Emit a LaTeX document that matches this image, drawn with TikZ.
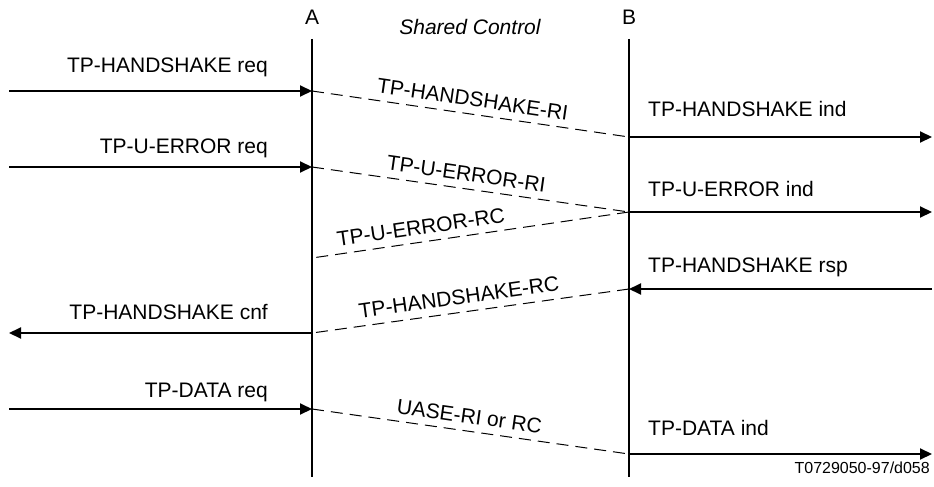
\documentclass[tikz,border=0pt]{standalone}
\usepackage{fontspec}
\setmainfont{Liberation Sans}
\usetikzlibrary{arrows.meta, positioning, calc}

\begin{document}
\begin{tikzpicture}[
            x=1pt, y=-1pt, >={Triangle[length=12pt,width=11pt]},
            font=\fontsize{21}{24}\selectfont,
            % ---- 预定义样式 ----
            lifeline/.style = {line width=2pt},
            prim/.style = {->, line width=2pt},
            pdu/.style = {line width=1pt, dash pattern=on 12pt off 7pt},
            pdulabel/.style = {sloped, above=7pt, inner sep=0pt},
            lbl/.style = {inner sep=0pt}
        ]
        \useasboundingbox (0,0) rectangle (934,487);

        % ===================== 两条生命线 =====================
        \coordinate (Atop) at (312,39);
        \coordinate (Abot) at (312,477);
        \coordinate (Btop) at (629,39);
        \coordinate (Bbot) at (629,477);
        \draw[lifeline] (Atop) -- (Abot);
        \draw[lifeline] (Btop) -- (Bbot);

        \node[lbl] (A) at (312,17) {A};
        \node[lbl] (B) at (629,17) {B};
        \node[lbl, anchor=base] (shared) at (470,35) {\itshape Shared Control};

        % ===================== 左侧原语 =====================
        \coordinate (L1) at (9,91);
        \coordinate (A1) at (312,91);
        \coordinate (L2) at (9,167);
        \coordinate (A2) at (312,167);
        \coordinate (A3) at (312,258);
        \coordinate (L4) at (9,333);
        \coordinate (A4) at (312,333);
        \coordinate (L5) at (9,409);
        \coordinate (A5) at (312,409);

        \node[lbl, anchor=base east] (hsreq) at (268,72) {TP-HANDSHAKE req};
        \node[lbl, anchor=base east] (uereq) at (268,153) {TP-U-ERROR req};
        \node[lbl, anchor=base east] (hscnf) at (268,319) {TP-HANDSHAKE cnf};
        \node[lbl, anchor=base east] (dtreq) at (268,397) {TP-DATA req};

        \draw[prim] (L1) -- (A1);
        \draw[prim] (L2) -- (A2);
        \draw[prim] (A4) -- (L4);
        \draw[prim] (L5) -- (A5);

        % ===================== 右侧原语 =====================
        \coordinate (B1) at (629,137);
        \coordinate (R1) at (932,137);
        \coordinate (B2) at (629,212);
        \coordinate (R2) at (932,212);
        \coordinate (B4) at (629,289);
        \coordinate (R4) at (932,289);
        \coordinate (B5) at (629,454);
        \coordinate (R5) at (932,454);

        \node[lbl, anchor=base west] (hsind) at (648,116) {TP-HANDSHAKE ind};
        \node[lbl, anchor=base west] (ueind) at (648,196) {TP-U-ERROR ind};
        \node[lbl, anchor=base west] (hsrsp) at (648,272) {TP-HANDSHAKE rsp};
        \node[lbl, anchor=base west] (dtind) at (648,435) {TP-DATA ind};

        \draw[prim] (B1) -- (R1);
        \draw[prim] (B2) -- (R2);
        \draw[prim] (R4) -- (B4);
        \draw[prim] (B5) -- (R5);

        % ---- 虚线 PDU ----
        \draw[pdu] (A1) -- (B1) node[pdulabel, pos=0.5] {TP-HANDSHAKE-RI};
        \draw[pdu] (A2) -- (B2) node[pdulabel, pos=0.48] {TP-U-ERROR-RI};
        \draw[pdu] (B2) -- (A3) node[pdulabel, pos=0.65] {TP-U-ERROR-RC};
        \draw[pdu] (B4) -- (A4) node[pdulabel, pos=0.53] {TP-HANDSHAKE-RC};
        \draw[pdu] (A5) -- (B5) node[pdulabel, pos=0.49] {UASE-RI or RC};

        % 图号
        \node[lbl, anchor=base east, font=\fontsize{16}{18}\selectfont] (figid) at (930,473) {T0729050-97/d058};

        \end{tikzpicture}
\end{document}
